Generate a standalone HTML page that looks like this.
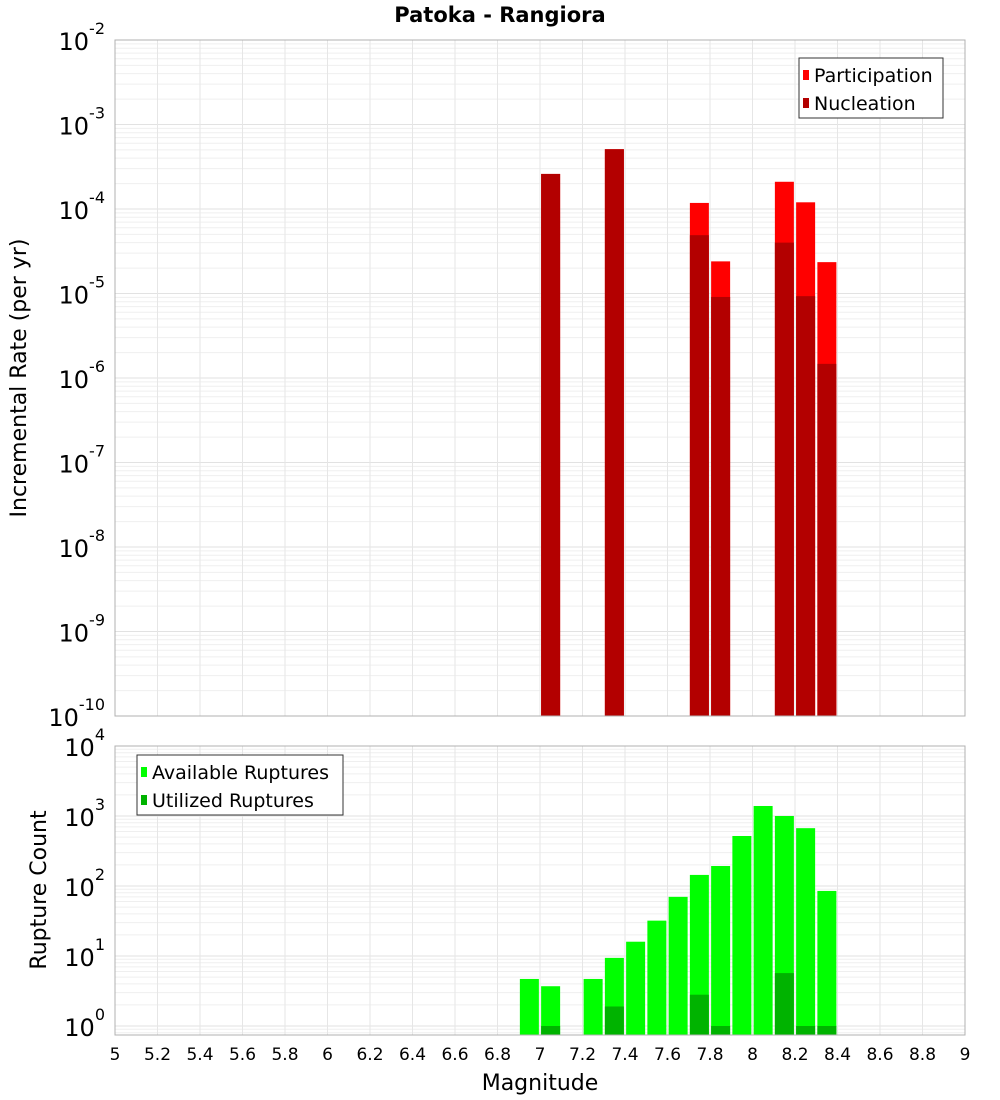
<!DOCTYPE html>
<html><head><meta charset="utf-8"><style>
body{margin:0;background:#fff;}
svg{display:block;font-family:"DejaVu Sans","Liberation Sans",sans-serif;}
</style></head><body>
<svg id="c" width="1000" height="1100">
<text x="500" y="22" text-anchor="middle" font-size="21" font-weight="bold">Patoka - Rangiora</text>
<g id="topPanel"></g>
<g id="botPanel"></g>
<text transform="translate(26,378) rotate(-90)" text-anchor="middle" font-size="22">Incremental Rate (per yr)</text>
<text transform="translate(46,890) rotate(-90)" text-anchor="middle" font-size="22">Rupture Count</text>
<text x="540" y="1090" text-anchor="middle" font-size="22">Magnitude</text>
</svg>
<script>
const rateMags=[7.05,7.35,7.75,7.85,8.15,8.25,8.35];
const participation=[2.6e-4,5.1e-4,1.18e-4,2.4e-5,2.1e-4,1.2e-4,2.35e-5];
const nucleation=[2.6e-4,5.1e-4,4.9e-5,9.1e-6,4.0e-5,9.3e-6,1.47e-6];
const countMags=[6.95,7.05,7.25,7.35,7.45,7.55,7.65,7.75,7.85,7.95,8.05,8.15,8.25,8.35];
const available=[4.7,3.7,4.7,9.4,16,32,70,144,193,518,1390,1000,670,85];
const utilMags=[7.05,7.35,7.75,7.85,8.15,8.25,8.35];
const utilized=[1,1.9,2.8,1,5.7,1,1];
const xTicks=["5","5.2","5.4","5.6","5.8","6","6.2","6.4","6.6","6.8","7","7.2","7.4","7.6","7.8","8","8.2","8.4","8.6","8.8","9"];
const topExps=[-2,-3,-4,-5,-6,-7,-8,-9,-10];
const botExps=[4,3,2,1,0];

const NS="http://www.w3.org/2000/svg";
const X0=115,X1=965;
const xs=m=>X0+(m-5)*(X1-X0)/4;
const yTop=v=>40+(-2-Math.log10(v))*84.5;
const yBot=v=>746+(4-Math.log10(v))*70;
function mk(p,t,a){const e=document.createElementNS(NS,t);for(const k in a)e.setAttribute(k,a[k]);p.appendChild(e);return e;}
const topG=document.getElementById('topPanel'),botG=document.getElementById('botPanel');

function grid(g,y0,y1,yf,dmax,dmin){
  for(let d=dmin;d<dmax;d++)for(let k=1;k<10;k++){const yy=yf(k*Math.pow(10,d));if(yy<y0||yy>y1)continue;
    const l=mk(g,'line',{x1:X0,x2:X1,y1:yy,y2:yy,stroke:k==1?'#e2e2e2':'#efefef','stroke-width':1});
    
    }
  xTicks.forEach(t=>{const xx=xs(+t);const l=mk(g,'line',{x1:xx,x2:xx,y1:y0,y2:y1,stroke:'#e6e6e6'});
    
    });
}
grid(topG,40,716,yTop,-2,-10);
grid(botG,746,1035,yBot,4,-1);

const bw=19;
rateMags.forEach((m,i)=>{
  const r=mk(topG,'rect',{x:xs(m)-bw/2,y:yTop(participation[i]),width:bw,height:716-yTop(participation[i]),fill:'#ff0000'});
  
  
  const n=mk(topG,'rect',{x:xs(m)-bw/2,y:yTop(nucleation[i]),width:bw,height:716-yTop(nucleation[i]),fill:'#b30000'});
  
  
});
countMags.forEach((m,i)=>{
  const r=mk(botG,'rect',{x:xs(m)-bw/2,y:yBot(available[i]),width:bw,height:1035-yBot(available[i]),fill:'#00ff00'});
  
  
});
utilMags.forEach((m,i)=>{
  const r=mk(botG,'rect',{x:xs(m)-bw/2,y:yBot(utilized[i]),width:bw,height:1035-yBot(utilized[i]),fill:'#00b300'});
  
  
});
const f1=mk(topG,'rect',{x:X0,y:40,width:X1-X0,height:676,fill:'none',stroke:'#b0b0b0'});


const f2=mk(botG,'rect',{x:X0,y:746,width:X1-X0,height:289,fill:'none',stroke:'#b0b0b0'});



function ylab(g,e,yy){const t=mk(g,'text',{x:105,y:yy+10,'text-anchor':'end','font-size':24});
  
  
  t.textContent='10';const s=mk(t,'tspan',{dy:-16,'font-size':16});s.textContent=String(e);}
topExps.forEach(e=>ylab(topG,e,yTop(Math.pow(10,e))));
botExps.forEach(e=>ylab(botG,e,yBot(Math.pow(10,e))));
xTicks.forEach(t=>{const tx=mk(botG,'text',{x:xs(+t),y:1060,'text-anchor':'middle','font-size':17});
  
  
  tx.textContent=t;});

function legend(g,lx,ly,w,items){
  const b=mk(g,'rect',{x:lx,y:ly,width:w,height:60,fill:'#fff',stroke:'#333'});
  
  
  items.forEach((it,i)=>{const yy=ly+17+i*28;
    const s=mk(g,'rect',{x:lx+4,y:yy-5,width:6,height:10,fill:it[1]});
    
    
    const t=mk(g,'text',{x:lx+15,y:yy+7,'font-size':19});
    
    
    t.textContent=it[0];});
}
legend(topG,799,58,144,[["Participation","#ff0000"],["Nucleation","#b30000"]]);
legend(botG,137,755,206,[["Available Ruptures","#00ff00"],["Utilized Ruptures","#00b300"]]);
</script>
</body></html>
